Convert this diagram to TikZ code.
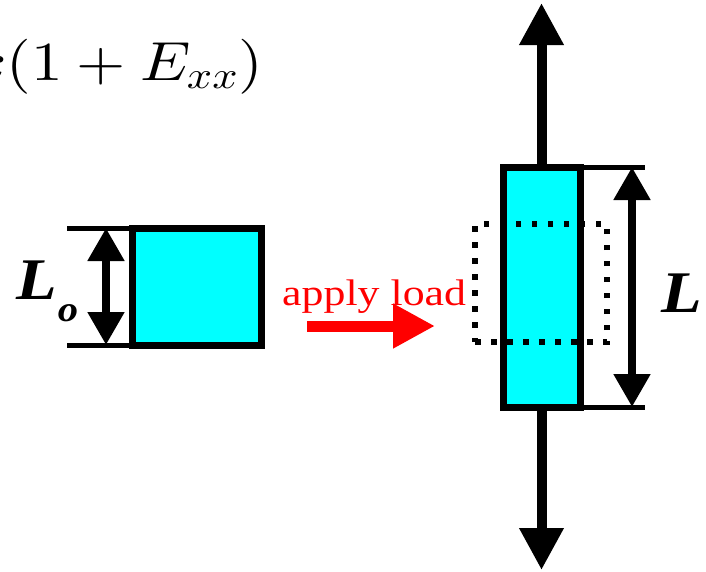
\documentclass[tikz,border=0pt]{standalone}
\usepackage[no-math]{fontspec}
\setmainfont{Liberation Serif}
\DeclareFontShape{OT1}{cmr}{m}{n}{<-> cmr10}{}
\DeclareFontShape{OML}{cmm}{m}{it}{<-> cmmi10}{}
\DeclareFontShape{OMS}{cmsy}{m}{n}{<-> cmsy10}{}
\DeclareFontShape{OMX}{cmex}{m}{n}{<-> cmex10}{}
\definecolor{boxcyan}{RGB}{0,255,255}
\usetikzlibrary{arrows.meta}

\begin{document}
\begin{tikzpicture}[x=1pt, y=-1pt,
    block/.style={draw=black, fill=boxcyan, line width=7pt, inner sep=0pt, outer sep=0pt},
    dimline/.style={line width=5pt},
    dimarrow/.style={line width=8pt, {Triangle[length=33pt,width=35pt]}-{Triangle[length=33pt,width=35pt]}},
    loadarrow/.style={line width=10pt, -{Triangle[length=42pt,width=42pt]}},
    txt/.style={inner sep=0pt, xscale=1.15},
    lbl/.style={txt, xscale=0.98, font=\fontsize{59}{59}\selectfont\bfseries\itshape}]
  \useasboundingbox (0,0) rectangle (706,571);
  % strain formula, cut at the left edge
  \node[txt, anchor=base east, font=\fontsize{55}{55}\selectfont] (formula) at (263,80) {$x(1+E_{xx})$};
  % original block and its length
  \node[block, minimum width=129pt, minimum height=117pt] (orig) at (196.5,286.5) {};
  \coordinate (lotop) at (67,228);
  \coordinate (lobot) at (67,345);
  \draw[dimline] (orig.north west) -- (lotop);
  \draw[dimline] (orig.south west) -- (lobot);
  \coordinate (loa) at (106,228);
  \coordinate (lob) at (106,345);
  \draw[dimarrow] (loa) -- (lob);
  \node[lbl, anchor=base west] (Lo) at (16,299) {L\kern1pt\raisebox{-22pt}{\fontsize{36}{36}\selectfont o}};
  % apply load
  \coordinate (ra) at (307,326);
  \coordinate (rb) at (435,326);
  \draw[loadarrow, red, line width=11pt] (ra) -- (rb);
  \node[txt, anchor=base west, red, font=\fontsize{37}{37}\selectfont, xscale=1.03] (applylbl) at (282,305) {apply load};
  % stretched block
  \node[block, minimum width=77pt, minimum height=240pt] (strt) at (541.5,287) {};
  \node[draw, line width=5.5pt, dash pattern=on 5.5pt off 10.5pt, minimum width=132pt, minimum height=118pt, inner sep=0pt] (ghost) at (541,283) {};
  \coordinate (uptip) at (541.5,3);
  \coordinate (downtip) at (541.5,570);
  \draw[loadarrow] (strt.north) -- (uptip);
  \draw[loadarrow] (strt.south) -- (downtip);
  % new length
  \coordinate (ltop) at (645,167);
  \coordinate (lbot) at (645,407);
  \draw[dimline] (strt.north east) -- (ltop);
  \draw[dimline] (strt.south east) -- (lbot);
  \coordinate (la) at (632,167);
  \coordinate (lb) at (632,407);
  \draw[dimarrow] (la) -- (lb);
  \node[lbl, anchor=base west] (Lnew) at (661,312) {L};
\end{tikzpicture}
\end{document}
